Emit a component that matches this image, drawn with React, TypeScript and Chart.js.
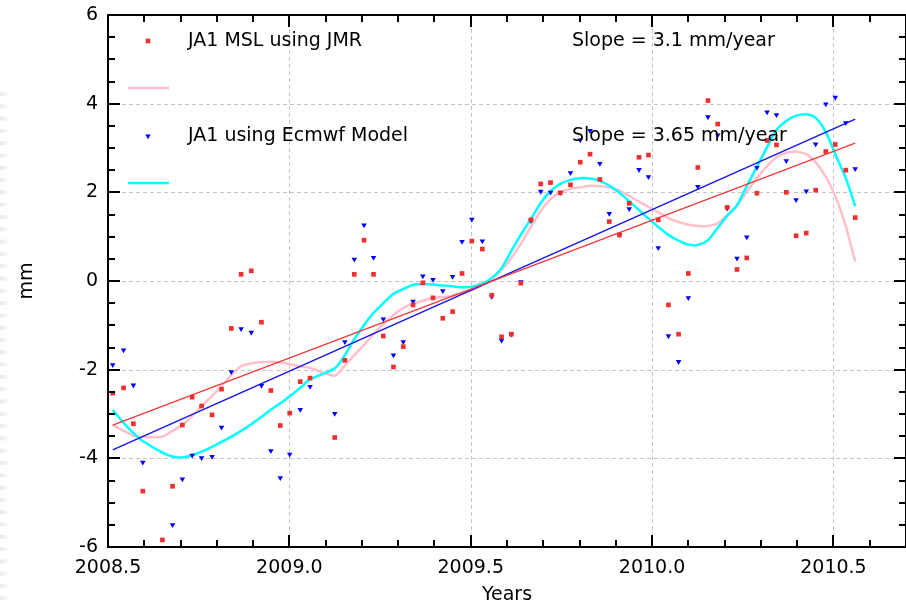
import React, { useEffect, useRef } from "react";
import { Chart, registerables } from "chart.js";

Chart.register(...registerables);

// ---- data ----
const years = [
  2008.513, 2008.543, 2008.570, 2008.596, 2008.650, 2008.678, 2008.705, 2008.732, 2008.758, 2008.787,
  2008.813, 2008.840, 2008.867, 2008.895, 2008.923, 2008.949, 2008.975, 2009.001, 2009.030, 2009.057,
  2009.125, 2009.153, 2009.179, 2009.206, 2009.232, 2009.259, 2009.287, 2009.314, 2009.341, 2009.368,
  2009.396, 2009.423, 2009.450, 2009.476, 2009.503, 2009.532, 2009.558, 2009.585, 2009.612, 2009.638,
  2009.666, 2009.693, 2009.720, 2009.747, 2009.775, 2009.802, 2009.829, 2009.856, 2009.882, 2009.910,
  2009.937, 2009.964, 2009.990, 2010.017, 2010.045, 2010.073, 2010.100, 2010.126, 2010.154, 2010.181,
  2010.207, 2010.234, 2010.261, 2010.289, 2010.317, 2010.343, 2010.370, 2010.397, 2010.425, 2010.451,
  2010.479, 2010.505, 2010.534, 2010.560,
];

const jmrMsl = [
  -2.53, -2.41, -3.22, -4.74, -5.84, -4.63, -3.25, -2.62, -2.82, -3.02,
  -2.44, -1.07, 0.15, 0.23, -0.93, -2.47, -3.26, -2.98, -2.27, -2.19,
  -3.53, -1.79, 0.15, 0.92, 0.15, -1.24, -1.94, -1.48, -0.54, -0.04,
  -0.38, -0.84, -0.69, 0.17, 0.90, 0.72, -0.32, -1.26, -1.20, -0.05,
  1.38, 2.19, 2.22, 1.99, 2.17, 2.68, 2.86, 2.29, 1.34, 1.04,
  1.75, 2.79, 2.84, 1.38, -0.54, -1.20, 0.17, 2.56, 4.07, 3.54,
  1.66, 0.26, 0.52, 1.98, 3.17, 3.07, 2.00, 1.02, 1.08, 2.05,
  2.92, 3.08, 2.50, 1.43,
];

const ecmwfMsl: (number | null)[] = [
  -1.89, -1.56, -2.35, -4.09, null, -5.50, -4.47, -3.93, -3.99, -3.96,
  -3.30, -2.05, -1.08, -1.16, -2.36, -3.83, -4.44, -3.91, -2.90, -2.38,
  -2.99, -1.37, 0.49, 1.26, 0.53, -0.86, -1.67, -1.37, -0.46, 0.11,
  0.03, -0.22, 0.10, 0.89, 1.39, 0.90, -0.35, -1.34, -1.20, -0.02,
  1.36, 2.02, 2.00, 1.99, 2.44, 3.18, 3.39, 2.65, 1.52, 1.04,
  1.63, 2.51, 2.35, 0.75, -1.24, -1.82, -0.38, 2.13, 3.70, 3.29,
  1.64, 0.51, 0.99, 2.56, 3.81, 3.75, 2.71, 1.83, 2.03, 3.09,
  3.99, 4.14, 3.57, 2.53,
];

const jmrSmooth = [
  -3.25, -3.38, -3.49, -3.52, -3.51, -3.38, -3.25, -3.05, -2.83, -2.59,
  -2.37, -2.12, -1.92, -1.86, -1.83, -1.82, -1.84, -1.87, -1.93, -1.96,
  -2.14, -1.91, -1.67, -1.44, -1.20, -0.97, -0.77, -0.61, -0.51, -0.45,
  -0.38, -0.36, -0.33, -0.27, -0.21, -0.09, 0.05, 0.25, 0.52, 0.83,
  1.22, 1.58, 1.85, 2.00, 2.08, 2.11, 2.15, 2.14, 2.11, 2.04,
  1.92, 1.79, 1.67, 1.55, 1.42, 1.33, 1.27, 1.24, 1.24, 1.30,
  1.49, 1.69, 2.01, 2.32, 2.59, 2.79, 2.89, 2.92, 2.86, 2.68,
  2.35, 1.92, 1.24, 0.44,
];

const ecmwfSmooth = [
  -2.91, -3.20, -3.43, -3.61, -3.87, -3.96, -3.98, -3.93, -3.85, -3.74,
  -3.63, -3.51, -3.38, -3.23, -3.07, -2.90, -2.76, -2.60, -2.41, -2.22,
  -1.97, -1.67, -1.31, -0.99, -0.72, -0.50, -0.29, -0.18, -0.09, -0.07,
  -0.08, -0.10, -0.12, -0.14, -0.13, -0.06, 0.07, 0.29, 0.68, 1.04,
  1.40, 1.76, 2.03, 2.19, 2.28, 2.32, 2.31, 2.26, 2.15, 1.99,
  1.80, 1.60, 1.41, 1.22, 1.04, 0.91, 0.82, 0.81, 0.92, 1.20,
  1.47, 1.71, 2.14, 2.58, 3.02, 3.41, 3.61, 3.73, 3.76, 3.68,
  3.36, 2.86, 2.32, 1.69,
];

const trendYears = [2008.513, 2010.56];
const jmrTrend = [-3.25, 3.11];
const ecmwfTrend = [-3.81, 3.65];

const xMajorTicks = [2008.5, 2009.0, 2009.5, 2010.0, 2010.5];
const yMajorTicks = [-6, -4, -2, 0, 2, 4, 6];
const legendLabels = ["JA1 MSL using JMR", "JA1 using Ecmwf Model"];
const slopeLabels = ["Slope = 3.1 mm/year", "Slope = 3.65 mm/year"];
const xTitle = "Years";
const yTitle = "mm";

// ---- styling ----
const FONT = "'DejaVu Sans', 'Noto Sans', sans-serif";
const RED = "#f03030";
const BLUE = "#0000ff";
const PINK = "#ffc0cb";
const CYAN = "#00ffff";
const RED_LINE = "#f23a3a";
const BLUE_LINE = "#1414e6";

function toPoints(xs: number[], ys: (number | null)[]) {
  const out: { x: number; y: number }[] = [];
  xs.forEach((x, i) => {
    const y = ys[i];
    if (y !== null && y !== undefined) out.push({ x, y });
  });
  return out;
}

function drawRect(ctx: CanvasRenderingContext2D, x: number, y: number, r: number, color: string) {
  const s = Math.SQRT1_2 * r;
  ctx.fillStyle = color;
  ctx.fillRect(x - s, y - s, 2 * s, 2 * s);
}

function drawTriDown(ctx: CanvasRenderingContext2D, x: number, y: number, r: number, color: string) {
  ctx.fillStyle = color;
  ctx.beginPath();
  ctx.moveTo(x, y + r);
  ctx.lineTo(x - r * Math.sin(Math.PI / 3), y - r / 2);
  ctx.lineTo(x + r * Math.sin(Math.PI / 3), y - r / 2);
  ctx.closePath();
  ctx.fill();
}

const decorations = {
  id: "decorations",
  beforeDraw(chart: any) {
    // faint striped page background at the left margin
    const { ctx, height } = chart;
    ctx.save();
    for (let y = 92; y < height; y += 12.3) {
      const g = ctx.createLinearGradient(0, 0, 10, 0);
      g.addColorStop(0, "rgba(0,0,0,0.09)");
      g.addColorStop(1, "rgba(0,0,0,0)");
      ctx.fillStyle = g;
      ctx.fillRect(0, y, 10, 4);
    }
    ctx.restore();
  },
  beforeDatasetsDraw(chart: any) {
    const { ctx, chartArea: a, scales } = chart;
    const xs = scales.x;
    const ys = scales.y;
    ctx.save();
    ctx.strokeStyle = "#c4c4c4";
    ctx.lineWidth = 1;
    ctx.setLineDash([4, 3]);
    for (const v of xMajorTicks) {
      const px = Math.round(xs.getPixelForValue(v)) + 0.5;
      if (px <= a.left + 2 || px >= a.right - 2) continue;
      ctx.beginPath();
      ctx.moveTo(px, a.top);
      ctx.lineTo(px, a.bottom);
      ctx.stroke();
    }
    for (const v of yMajorTicks) {
      const py = Math.round(ys.getPixelForValue(v)) + 0.5;
      if (py <= a.top + 2 || py >= a.bottom - 2) continue;
      ctx.beginPath();
      ctx.moveTo(a.left, py);
      ctx.lineTo(a.right, py);
      ctx.stroke();
    }
    ctx.restore();
  },
  afterDatasetsDraw(chart: any) {
    const { ctx, chartArea: a, scales } = chart;
    const xs = scales.x;
    const ys = scales.y;
    ctx.save();
    // frame
    ctx.strokeStyle = "#000";
    ctx.lineWidth = 2;
    ctx.setLineDash([]);
    ctx.strokeRect(a.left, a.top, a.right - a.left, a.bottom - a.top);
    // x ticks (every 0.1, major every 0.5)
    const xMinK = Math.ceil(xs.min * 10 - 1e-6);
    const xMaxK = Math.floor(xs.max * 10 + 1e-6);
    for (let k = xMinK; k <= xMaxK; k++) {
      const px = Math.round(xs.getPixelForValue(k / 10));
      const len = k % 5 === 0 ? 12 : 7;
      ctx.beginPath();
      ctx.moveTo(px, a.bottom);
      ctx.lineTo(px, a.bottom - len);
      ctx.moveTo(px, a.top);
      ctx.lineTo(px, a.top + len);
      ctx.stroke();
    }
    // y ticks (every 0.5, major every 2)
    for (let k = Math.ceil(ys.min * 2); k <= Math.floor(ys.max * 2); k++) {
      const py = Math.round(ys.getPixelForValue(k / 2));
      const len = k % 4 === 0 ? 12 : 7;
      ctx.beginPath();
      ctx.moveTo(a.left, py);
      ctx.lineTo(a.left + len, py);
      ctx.moveTo(a.right, py);
      ctx.lineTo(a.right - len, py);
      ctx.stroke();
    }
    // axis titles
    ctx.fillStyle = "#000";
    ctx.font = `19px ${FONT}`;
    ctx.textAlign = "center";
    ctx.textBaseline = "middle";
    ctx.fillText(xTitle, (a.left + a.right) / 2, 595);
    ctx.save();
    ctx.translate(27, (a.top + a.bottom) / 2);
    ctx.rotate(-Math.PI / 2);
    ctx.fillText(yTitle, 0, 0);
    ctx.restore();

    // legend
    const lx = a.left;
    const ty = a.top;
    drawRect(ctx, lx + 40, ty + 26, 3.3, RED);
    ctx.strokeStyle = PINK;
    ctx.lineWidth = 2.5;
    ctx.beginPath();
    ctx.moveTo(lx + 20, ty + 73);
    ctx.lineTo(lx + 61, ty + 73);
    ctx.stroke();
    drawTriDown(ctx, lx + 40, ty + 121, 3.2, BLUE);
    ctx.strokeStyle = CYAN;
    ctx.beginPath();
    ctx.moveTo(lx + 20, ty + 168);
    ctx.lineTo(lx + 61, ty + 168);
    ctx.stroke();

    ctx.fillStyle = "#000";
    ctx.textAlign = "left";
    ctx.textBaseline = "middle";
    ctx.fillText(legendLabels[0], lx + 80, ty + 26);
    ctx.fillText(legendLabels[1], lx + 80, ty + 121);
    ctx.fillText(slopeLabels[0], lx + 464, ty + 26);
    ctx.fillText(slopeLabels[1], lx + 464, ty + 121);
    ctx.restore();
  },
};

export default function App() {
  const ref = useRef<HTMLCanvasElement>(null);

  useEffect(() => {
    const canvas = ref.current;
    if (!canvas) return;
    Chart.defaults.font.family = FONT;
    const chart = new Chart(canvas, {
      type: "scatter",
      data: {
        datasets: [
          {
            label: legendLabels[0],
            data: toPoints(years, jmrMsl),
            pointStyle: "rect",
            pointRadius: 3.3,
            pointBorderWidth: 0,
            backgroundColor: RED,
            borderColor: RED,
            showLine: false,
            order: 1,
          },
          {
            label: legendLabels[1],
            data: toPoints(years, ecmwfMsl),
            pointStyle: "triangle",
            pointRotation: 180,
            pointRadius: 3.2,
            pointBorderWidth: 0,
            backgroundColor: BLUE,
            borderColor: BLUE,
            showLine: false,
            order: 1,
          },
          {
            label: "JMR smooth",
            data: toPoints(years, jmrSmooth),
            showLine: true,
            pointRadius: 0,
            borderColor: PINK,
            borderWidth: 2.5,
            tension: 0.15,
            order: 4,
          },
          {
            label: "Ecmwf smooth",
            data: toPoints(years, ecmwfSmooth),
            showLine: true,
            pointRadius: 0,
            borderColor: CYAN,
            borderWidth: 2.5,
            tension: 0.3,
            order: 3,
          },
          {
            label: "JMR trend",
            data: toPoints(trendYears, jmrTrend),
            showLine: true,
            pointRadius: 0,
            borderColor: RED_LINE,
            borderWidth: 1.4,
            order: 2,
          },
          {
            label: "Ecmwf trend",
            data: toPoints(trendYears, ecmwfTrend),
            showLine: true,
            pointRadius: 0,
            borderColor: BLUE_LINE,
            borderWidth: 1.4,
            order: 2,
          },
        ],
      },
      options: {
        animation: false,
        responsive: false,
        devicePixelRatio: 1,
        events: [],
        layout: { padding: { top: 15, right: 1, left: 0, bottom: 0 } },
        plugins: {
          legend: { display: false },
          tooltip: { enabled: false },
          title: { display: false },
        },
        scales: {
          x: {
            type: "linear",
            min: 2008.5,
            max: 2010.7,
            grid: { display: false, drawTicks: false },
            border: { display: false },
            afterBuildTicks: (s: any) => {
              s.ticks = xMajorTicks.map((v) => ({ value: v }));
            },
            afterFit: (s: any) => {
              s.height = 58;
              s.paddingLeft = 0;
              s.paddingRight = 0;
            },
            ticks: {
              autoSkip: false,
              maxRotation: 0,
              padding: 10,
              color: "#000",
              font: { size: 19, family: FONT },
              callback: (v: any) => Number(v).toFixed(1),
            },
          },
          y: {
            type: "linear",
            min: -6,
            max: 6,
            grid: { display: false, drawTicks: false },
            border: { display: false },
            afterBuildTicks: (s: any) => {
              s.ticks = yMajorTicks.map((v) => ({ value: v }));
            },
            afterFit: (s: any) => {
              s.width = 108;
              s.paddingTop = 0;
              s.paddingBottom = 0;
            },
            ticks: {
              autoSkip: false,
              padding: 10,
              color: "#000",
              font: { size: 19, family: FONT },
              callback: (v: any) => String(v),
            },
          },
        },
      },
      plugins: [decorations],
    } as any);
    return () => chart.destroy();
  }, []);

  return (
    <div
      style={{
        position: "fixed",
        left: 0,
        top: 0,
        width: 906,
        height: 605,
        overflow: "hidden",
        background: "#fff",
      }}
    >
      <canvas ref={ref} width={910} height={605} style={{ display: "block", width: 910, height: 605 }} />
    </div>
  );
}
